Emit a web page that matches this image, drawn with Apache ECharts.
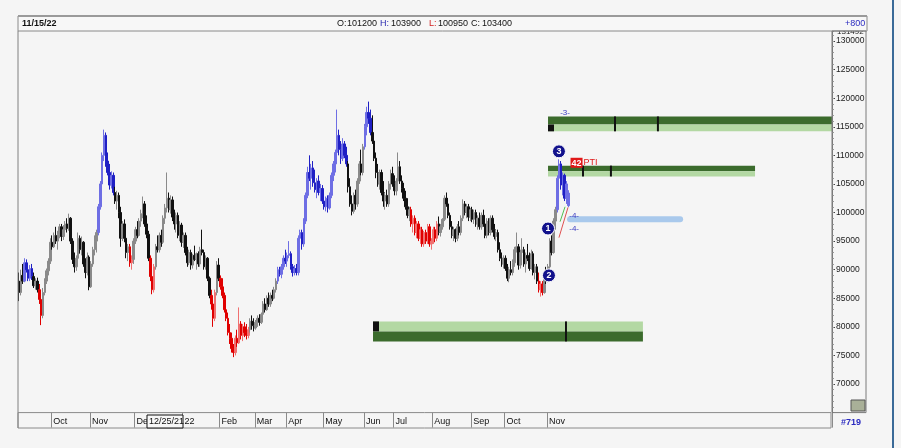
<!DOCTYPE html>
<html><head><meta charset="utf-8">
<script src="https://cdn.jsdelivr.net/npm/echarts@6/dist/echarts.min.js"></script>
<style>html,body{margin:0;padding:0;background:#f5f5f5}#c{width:901px;height:448px}</style>
</head><body><div id="c"></div>
<script>
// ---- data (prices in thousands) ----
// daily bars: [open, high, low, close]
const bars = [
[88.0,89.5,84.5,86.0],[86.0,90.0,85.5,89.0],[89.0,91.0,87.5,88.0],[88.0,92.0,87.8,91.2],[91.2,91.8,89.5,90.0],
[90.0,90.5,88.0,88.5],[88.5,90.8,88.0,90.2],[90.2,91.0,88.2,88.8],[88.8,89.5,86.8,87.2],[87.2,88.5,86.5,88.0],
[88.0,88.6,86.0,86.5],[86.5,87.5,84.0,84.8],[84.8,85.5,80.3,82.0],[82.0,86.8,81.5,86.0],[86.0,88.5,85.5,88.0],
[88.0,90.2,87.5,89.8],[89.8,92.0,89.0,91.5],[91.5,95.5,91.0,94.8],[94.8,96.0,93.5,94.0],[94.0,96.5,93.8,96.0],
[96.0,97.5,94.5,95.0],[95.0,96.8,93.5,96.2],[96.2,98.0,95.5,97.5],[97.5,98.0,95.0,95.8],[95.8,97.8,95.2,97.0],
[97.0,98.5,96.0,98.0],[98.0,99.0,96.5,97.2],[97.2,99.8,96.8,99.0],[99.0,99.2,94.5,95.0],[95.0,95.5,91.0,91.8],
[91.8,93.0,89.5,90.5],[90.5,92.5,89.8,92.0],[92.0,96.5,91.5,95.5],[95.5,96.0,92.8,93.5],[93.5,95.8,92.5,94.8],
[94.8,95.0,90.5,91.0],[91.0,92.0,88.5,89.5],[89.5,93.0,89.0,92.2],[92.2,92.5,86.4,87.0],[87.0,91.5,86.8,91.0],
[91.0,94.0,90.5,93.5],[93.5,96.0,92.5,95.0],[95.0,97.0,93.0,96.5],[96.5,101.5,96.0,101.0],[101.0,105.5,100.5,105.0],
[105.0,110.5,104.5,110.0],[110.0,114.5,109.0,113.5],[113.5,114.0,108.0,109.0],[109.0,110.5,106.5,107.0],[107.0,108.5,104.0,104.8],
[104.8,107.2,104.2,106.5],[106.5,107.0,103.0,103.5],[103.5,104.5,101.5,102.0],[102.0,103.8,100.5,103.0],[103.0,103.5,99.0,100.0],
[100.0,101.0,94.0,95.5],[95.5,98.5,95.0,98.0],[98.0,98.8,94.8,95.5],[95.5,97.0,92.0,93.0],[93.0,94.5,91.5,94.0],
[94.0,94.5,90.5,91.2],[91.2,92.5,90.0,91.8],[91.8,95.5,91.0,95.0],[95.0,97.5,94.5,97.0],[97.0,98.5,95.5,96.0],
[96.0,99.0,95.8,98.5],[98.5,100.5,97.5,99.8],[99.8,102.8,99.0,101.5],[101.5,102.0,97.5,98.0],[98.0,99.5,95.5,96.2],
[96.2,96.8,91.5,92.0],[92.0,92.5,88.0,88.8],[88.8,89.5,85.7,86.5],[86.5,91.0,86.0,90.5],[90.5,94.5,90.0,94.0],
[94.0,96.0,93.0,93.5],[93.5,96.5,93.0,96.0],[96.0,97.0,94.0,94.8],[94.8,99.5,94.5,99.0],[99.0,101.5,98.0,100.8],
[100.8,107.0,100.0,102.5],[102.5,103.5,100.0,100.5],[100.5,103.0,99.8,102.2],[102.2,102.8,98.5,99.2],[99.2,100.5,97.0,98.0],
[98.0,100.0,96.5,99.5],[99.5,100.0,95.5,96.0],[96.0,98.5,95.0,97.8],[97.8,98.2,94.0,94.8],[94.8,96.5,93.8,96.0],
[96.0,96.5,92.5,93.0],[93.0,94.0,90.5,91.2],[91.2,93.5,90.8,93.0],[93.0,93.5,90.0,90.8],[90.8,92.8,90.2,92.5],
[92.5,94.2,91.5,91.8],[91.8,93.0,90.0,92.8],[92.8,93.2,90.5,91.0],[91.0,94.0,90.5,93.5],[93.5,97.0,92.5,93.0],
[93.0,93.5,90.0,90.5],[90.5,92.5,90.0,92.0],[92.0,92.2,88.0,88.5],[88.5,88.8,85.0,85.5],[85.5,86.5,83.0,84.0],
[84.0,84.5,80.0,81.5],[81.5,86.5,81.0,86.0],[86.0,91.5,85.5,90.8],[90.8,92.0,88.0,88.5],[88.5,89.0,86.5,87.0],
[87.0,88.5,85.0,85.5],[85.5,86.0,82.5,83.0],[83.0,84.5,81.0,81.5],[81.5,82.5,78.5,79.0],[79.0,80.5,77.0,78.0],
[78.0,79.0,75.5,76.2],[76.2,77.0,74.7,75.5],[75.5,78.5,75.0,78.0],[78.0,79.5,76.5,77.2],[77.2,83.4,77.0,80.5],
[80.5,81.0,77.8,78.5],[78.5,80.5,77.5,80.0],[80.0,80.8,78.2,79.0],[79.0,80.5,77.8,78.5],[78.5,80.0,78.0,79.5],
[79.5,81.5,79.0,81.0],[81.0,82.0,79.5,80.2],[80.2,81.5,79.2,79.8],[79.8,81.2,79.5,80.8],[80.8,82.0,80.0,81.5],
[81.5,82.2,80.2,80.8],[80.8,82.5,80.5,82.2],[82.2,84.5,81.8,84.0],[84.0,85.0,82.5,83.0],[83.0,85.5,82.8,85.0],
[85.0,86.0,83.5,84.0],[84.0,86.0,83.5,85.5],[85.5,86.5,84.5,85.0],[85.0,87.0,84.8,86.5],[86.5,88.5,86.0,88.0],
[88.0,90.5,87.5,90.0],[90.0,90.5,88.8,89.2],[89.2,91.0,88.5,90.5],[90.5,92.5,90.0,92.0],[92.0,93.5,91.0,91.5],
[91.5,93.0,90.5,92.5],[92.5,95.0,92.0,92.8],[92.8,93.2,90.0,90.5],[90.5,91.0,88.8,89.5],[89.5,90.8,89.0,90.2],
[90.2,91.0,89.0,89.5],[89.5,96.0,89.0,95.5],[95.5,97.0,94.0,96.5],[96.5,97.0,93.5,94.5],[94.5,99.0,94.0,98.5],
[98.5,103.5,98.0,103.0],[103.0,108.0,102.5,107.0],[107.0,110.0,105.5,106.0],[106.0,108.5,104.0,107.8],[107.8,109.0,104.5,105.2],
[105.2,107.5,103.5,104.0],[104.0,106.0,102.5,105.5],[105.5,106.5,103.0,103.5],[103.5,105.0,102.0,104.2],[104.2,104.8,101.5,102.0],
[102.0,103.5,100.5,101.0],[101.0,102.8,100.2,102.5],[102.5,103.0,100.0,100.8],[100.8,103.5,100.5,103.0],[103.0,107.0,102.5,106.5],
[106.5,109.0,105.5,108.5],[108.5,111.0,107.0,110.5],[110.5,118.0,110.0,113.5],[113.5,114.5,110.0,111.0],[111.0,112.5,108.5,109.5],
[109.5,113.0,109.0,112.0],[112.0,112.5,109.5,110.0],[110.0,111.5,108.0,108.5],[108.5,109.0,103.5,104.5],[104.5,106.0,101.0,101.5],
[101.5,103.0,99.5,100.2],[100.2,103.5,99.8,103.0],[103.0,104.0,100.5,101.5],[101.5,106.0,101.0,105.5],[105.5,109.0,105.0,108.5],
[108.5,111.0,106.5,107.0],[107.0,112.0,106.5,111.5],[111.5,115.5,111.0,115.0],[115.0,118.5,113.5,117.5],[117.5,119.4,115.5,116.5],
[116.5,118.0,113.5,114.0],[114.0,117.0,112.0,112.5],[112.5,113.0,109.0,109.5],[109.5,110.5,106.0,107.0],[107.0,108.5,104.5,105.0],
[105.0,107.5,104.0,107.0],[107.0,107.5,103.0,103.5],[103.5,105.5,101.0,102.0],[102.0,103.5,100.5,103.0],[103.0,104.0,101.0,101.5],
[101.5,105.5,101.0,105.0],[105.0,107.5,104.0,106.8],[106.8,108.0,104.5,105.0],[105.0,106.5,103.0,103.8],[103.8,106.0,103.0,105.5],
[105.5,110.5,105.0,108.0],[108.0,109.0,105.0,105.5],[105.5,106.5,103.5,104.2],[104.2,105.2,102.0,102.5],[102.5,103.8,100.5,101.0],
[101.0,102.5,99.0,99.5],[99.5,101.0,98.5,100.5],[100.5,101.0,97.5,98.0],[98.0,99.5,96.5,99.0],[99.0,99.5,96.0,96.5],
[96.5,98.5,95.5,98.0],[98.0,98.5,95.0,95.5],[95.5,97.5,94.5,97.0],[97.0,97.5,94.0,94.5],[94.5,96.8,94.0,96.5],
[96.5,97.0,94.5,95.0],[95.0,98.0,94.5,97.5],[97.5,98.0,94.0,94.5],[94.5,95.5,93.5,95.0],[95.0,97.5,94.5,97.0],
[97.0,97.5,94.8,95.5],[95.5,98.5,95.0,98.0],[98.0,99.3,96.0,96.5],[96.5,98.0,95.8,97.5],[97.5,99.0,97.0,98.8],
[98.8,103.0,98.5,102.5],[102.5,103.5,101.0,101.5],[101.5,102.5,99.0,99.5],[99.5,100.0,97.0,97.5],[97.5,98.5,95.5,96.0],
[96.0,97.5,95.0,97.0],[97.0,97.2,94.8,95.5],[95.5,98.0,95.0,97.5],[97.5,98.5,96.0,96.5],[96.5,99.5,96.0,99.0],
[99.0,102.3,98.5,101.5],[101.5,102.0,99.5,100.0],[100.0,101.5,99.0,101.0],[101.0,101.5,98.5,99.2],[99.2,100.8,98.5,100.5],
[100.5,101.0,98.3,98.8],[98.8,100.5,98.0,100.0],[100.0,100.5,97.5,98.0],[98.0,99.5,97.0,99.0],[99.0,100.0,97.0,97.5],
[97.5,100.0,97.0,99.5],[99.5,100.5,97.5,98.0],[98.0,98.5,95.5,96.0],[96.0,99.0,95.5,98.5],[98.5,99.0,96.0,96.5],
[96.5,99.5,96.0,99.0],[99.0,99.5,96.5,97.0],[97.0,98.0,95.3,95.8],[95.8,97.0,95.0,96.5],[96.5,97.0,93.0,93.5],
[93.5,94.8,91.5,92.0],[92.0,93.0,90.5,91.0],[91.0,92.5,90.2,92.0],[92.0,92.5,89.8,90.2],[90.2,91.0,88.0,88.5],
[88.5,90.5,87.8,90.0],[90.0,91.5,89.0,89.5],[89.5,91.8,89.0,91.2],[91.2,94.0,90.5,93.5],[93.5,96.5,93.0,94.0],
[94.0,94.5,90.0,90.8],[90.8,93.5,90.2,93.0],[93.0,95.5,92.5,93.5],[93.5,94.0,90.5,91.0],[91.0,93.0,89.5,92.5],
[92.5,94.5,91.5,92.0],[92.0,93.0,89.8,90.2],[90.2,93.5,90.0,92.8],[92.8,93.2,89.0,89.5],[89.5,91.0,88.3,90.5],
[90.5,91.0,87.5,88.0],[88.0,89.5,86.0,86.5],[86.5,88.0,85.3,87.5],[87.5,88.0,85.5,86.0],[86.0,89.5,85.8,89.0],
[89.0,90.5,87.5,88.0],[88.0,91.0,87.8,90.5],[90.5,95.5,90.0,95.0],[95.0,96.0,92.5,93.0],[93.0,99.0,92.8,98.5],
[98.5,101.0,97.0,100.5],[100.5,106.5,100.0,106.0],[106.0,109.3,104.5,108.5],[108.5,109.0,104.0,104.8],[104.8,107.0,103.0,106.5],
[106.5,106.8,102.0,102.5],[102.5,105.5,101.5,105.0],[101.2,103.9,100.95,103.4]
];
// trend colouring segments: [firstBar, lastBar, 'b' blue | 'r' red]; others neutral
const trendSegments = [[3,7,'b'],[11,12,'r'],[43,51,'b'],[60,61,'r'],[71,73,'r'],[104,106,'r'],[109,124,'r'],
  [140,177,'b'],[187,190,'b'],[212,226,'r'],[281,283,'r'],[291,297,'b']];
// time axis
const slotCount = 440;
const monthStart = [18, 39, 63, 89, 109, 128, 145, 165, 187, 203, 224, 245, 263, 286];
const monthLabel = ['Oct','Nov','Dec','22','Feb','Mar','Apr','May','Jun','Jul','Aug','Sep','Oct','Nov'];
// price zones (bar index span, prices in thousands)
const zoneStart = [286.0, 286.0, 191.4];
const zoneEnd = [439.5, 397.9, 337.3];
const zoneTop = [116.8, 108.2, 80.95];
const zoneMid = [115.4, 107.2, 79.2];
const zoneBottom = [114.2, 106.3, 77.45];
const zoneDarkOnTop = [1, 1, 0];
const zoneMarks = [[322.2, 345.4], [304.9, 320.0], [295.7]];
const zoneHasSquare = [1, 0, 1];
// target band
const bandSpan = [297.9, 357.4];
const bandPrice = 98.8;
// short trend lines [[idx, price],[idx, price]]
const greenLine = [[292.5, 98.4], [295.2, 101.0]];
const redLine = [[291.9, 95.6], [296.8, 100.9]];
// wave counts
const waveIdx = [286.0, 286.5, 291.9];
const wavePrice = [97.2, 89.0, 110.7];
const waveText = ['1', '2', '3'];
const tagIdx = [295.2, 300.1, 300.1];
const tagPrice = [117.5, 99.5, 97.2];
const tagText = ['-3-', '-4-', '-4-'];
const ptiPoint = [297.9, 108.7];
const ptiValue = '42';
const yMin = 65000, yMax = 131750, yStep = 5000, yMinorStep = 1000;
const topLabel = '131492';
const K = 1000;

const palette = {
  k: {up: '#8a8a8a', down: '#111111'},
  b: {up: '#6e6ee4', down: '#1f1fc4'},
  r: {up: '#f07070', down: '#e00000'}
};
function trendAt(i) {
  for (const s of trendSegments) if (i >= s[0] && i <= s[1]) return s[2];
  return 'k';
}
const categories = Array.from({length: slotCount}, (_, i) => String(i));
const monthMap = {};
monthStart.forEach((s, i) => monthMap[s] = monthLabel[i]);
const candleData = bars.map((b, i) => {
  const p = palette[trendAt(i)];
  const c = b[3] >= b[0] ? p.up : p.down;
  return {value: [b[0]*K, b[3]*K, b[2]*K, b[1]*K],
    itemStyle: {color: c, color0: c, borderColor: c, borderColor0: c, borderWidth: 1}};
});
const last = bars[bars.length - 1];
const fmt = v => String(Math.round(v * K));

const DARK = '#3b6b2c', LIGHT = '#b3d8a3';
const FONT = 'Liberation Sans, Arial, sans-serif';

const chart = echarts.init(document.getElementById('c'), null, {renderer: 'canvas'});
chart.setOption({
  backgroundColor: '#f5f5f5',
  animation: false,
  grid: {left: 18, right: 69, top: 31, bottom: 35.4, show: false},
  xAxis: [{
    type: 'category', data: categories, boundaryGap: true,
    axisLine: {show: false, onZero: false},
    axisTick: {show: true, interval: (i) => monthMap[i] !== undefined, length: 15, lineStyle: {color: '#8a8a8a'}},
    axisLabel: {interval: (i) => monthMap[i] !== undefined, formatter: (v, i) => monthMap[i] || '',
      align: 'left', margin: 4, fontSize: 9, color: '#111', fontFamily: FONT, padding: [0, 0, 0, 1]},
    splitLine: {show: false}
  }, {
    type: 'value', min: -0.5, max: slotCount - 0.5, show: false, axisLine: {onZero: false}
  }],
  yAxis: [{
    type: 'value', position: 'right', min: yMin, max: yMax, interval: yStep,
    axisLine: {show: true, onZero: false, lineStyle: {color: '#7a7a7a'}},
    axisTick: {show: true, length: 3, lineStyle: {color: '#444'}},
    minorTick: {show: false},
    axisLabel: {margin: 4, fontSize: 8.5, color: '#1a1a1a', fontFamily: FONT, showMinLabel: false, showMaxLabel: false,
      formatter: v => String(v)},
    splitLine: {show: false}
  }, {
    type: 'value', position: 'right', min: yMin, max: yMax, interval: yMinorStep,
    axisLine: {show: false, onZero: false},
    axisTick: {show: true, length: 2, lineStyle: {color: '#999'}},
    axisLabel: {show: false},
    splitLine: {show: false}
  }],
  series: [
    {
      type: 'custom', xAxisIndex: 1, yAxisIndex: 0, z: 1,
      data: zoneStart.map((s, i) => [s, zoneEnd[i], zoneTop[i]*K, zoneMid[i]*K, zoneBottom[i]*K, i]),
      renderItem: (params, api) => {
        const i = api.value(5);
        const a = api.coord([api.value(0), api.value(2)]);
        const m = api.coord([api.value(0), api.value(3)]);
        const b = api.coord([api.value(1), api.value(4)]);
        const w = b[0] - a[0];
        const dt = zoneDarkOnTop[i];
        const ch = [
          {type: 'rect', shape: {x: a[0], y: a[1], width: w, height: m[1] - a[1]}, style: {fill: dt ? DARK : LIGHT}},
          {type: 'rect', shape: {x: a[0], y: m[1], width: w, height: b[1] - m[1]}, style: {fill: dt ? LIGHT : DARK}}
        ];
        zoneMarks[i].forEach(t => {
          const p = api.coord([t, api.value(2)]);
          ch.push({type: 'rect', shape: {x: p[0] - 1, y: a[1], width: 2, height: b[1] - a[1]}, style: {fill: '#111'}});
        });
        if (zoneHasSquare[i]) {
          const y0 = dt ? m[1] : a[1], y1 = dt ? b[1] : m[1];
          ch.push({type: 'rect', shape: {x: a[0], y: y0, width: 6, height: y1 - y0}, style: {fill: '#111'}});
        }
        return {type: 'group', children: ch};
      }
    },
    {
      type: 'line', xAxisIndex: 1, yAxisIndex: 0, z: 1, symbol: 'none', silent: true,
      data: [[bandSpan[0], bandPrice*K], [bandSpan[1], bandPrice*K]],
      lineStyle: {color: '#a9c9ec', width: 6, cap: 'round'}
    },
    {
      type: 'candlestick', xAxisIndex: 0, yAxisIndex: 0, barWidth: 2, z: 3,
      data: candleData
    },
    {
      type: 'line', xAxisIndex: 1, yAxisIndex: 0, z: 4, symbol: 'none', silent: true,
      data: greenLine.map(p => [p[0], p[1]*K]), lineStyle: {color: '#50c050', width: 1}
    },
    {
      type: 'line', xAxisIndex: 1, yAxisIndex: 0, z: 4, symbol: 'none', silent: true,
      data: redLine.map(p => [p[0], p[1]*K]), lineStyle: {color: '#e05050', width: 1}
    },
    {
      type: 'scatter', xAxisIndex: 1, yAxisIndex: 0, z: 5, symbol: 'circle', symbolSize: 13,
      data: waveIdx.map((x, i) => ({value: [x, wavePrice[i]*K], name: waveText[i]})),
      itemStyle: {color: '#12128c', borderColor: '#ffffff', borderWidth: 1, opacity: 1},
      label: {show: true, position: 'inside', formatter: p => p.name, color: '#fff', fontSize: 9, fontWeight: 'bold', fontFamily: FONT}
    },
    {
      type: 'scatter', xAxisIndex: 1, yAxisIndex: 0, z: 5, symbolSize: 1, itemStyle: {color: 'rgba(0,0,0,0)'},
      data: tagIdx.map((x, i) => ({value: [x, tagPrice[i]*K], name: tagText[i]})),
      label: {show: true, position: 'inside', formatter: p => p.name, color: '#3a3ac0', fontSize: 8, fontFamily: FONT, opacity: 1}
    },
    {
      type: 'scatter', xAxisIndex: 1, yAxisIndex: 0, z: 5, symbolSize: 1, itemStyle: {color: 'rgba(0,0,0,0)'},
      data: [{value: [ptiPoint[0], ptiPoint[1]*K], name: ptiValue}],
      label: {show: true, position: 'right', distance: 0, opacity: 1, formatter: p => '{n|' + p.name + '}{t|PTI}',
        rich: {n: {backgroundColor: '#e01818', color: '#fff', fontSize: 9, fontWeight: 'bold', padding: [1, 1, 0, 1], fontFamily: FONT},
               t: {color: '#e01818', fontSize: 9, fontFamily: FONT, padding: [0, 0, 0, 1]}}}
    }
  ],
  graphic: [
    {type: 'text', x: 837, y: 28, z: 10, style: {text: topLabel, font: '8px ' + FONT, fill: '#222'}},
    {type: 'rect', z: 11, shape: {x: 18, y: 16, width: 849, height: 15}, style: {fill: '#f7f7f7', stroke: '#8a8a8a', lineWidth: 1}},
    {type: 'line', z: 12, shape: {x1: 18, y1: 16, x2: 867, y2: 16}, style: {stroke: '#9a9a9a', lineWidth: 2}},
    {type: 'text', z: 12, x: 22, y: 19, style: {text: '11/15/22', font: 'bold 9px ' + FONT, fill: '#111'}},
    {type: 'text', z: 12, x: 337, y: 19, style: {text: 'O:', font: '9px ' + FONT, fill: '#111'}},
    {type: 'text', z: 12, x: 347, y: 19, style: {text: fmt(last[0]), font: '9px ' + FONT, fill: '#111'}},
    {type: 'text', z: 12, x: 380, y: 19, style: {text: 'H:', font: '9px ' + FONT, fill: '#2b2bb0'}},
    {type: 'text', z: 12, x: 391, y: 19, style: {text: fmt(last[1]), font: '9px ' + FONT, fill: '#111'}},
    {type: 'text', z: 12, x: 429, y: 19, style: {text: 'L:', font: '9px ' + FONT, fill: '#d02020'}},
    {type: 'text', z: 12, x: 438, y: 19, style: {text: fmt(last[2]), font: '9px ' + FONT, fill: '#111'}},
    {type: 'text', z: 12, x: 471, y: 19, style: {text: 'C:', font: '9px ' + FONT, fill: '#111'}},
    {type: 'text', z: 12, x: 482, y: 19, style: {text: fmt(last[3]), font: '9px ' + FONT, fill: '#111'}},
    {type: 'text', z: 12, x: 845, y: 19, style: {text: '+800', font: '9px ' + FONT, fill: '#2b2bc0'}},
    {type: 'line', z: 12, shape: {x1: 18, y1: 31, x2: 18, y2: 428}, style: {stroke: '#808080', lineWidth: 1}},
    {type: 'rect', z: 12, shape: {x: 18, y: 412.6, width: 813, height: 15.4}, style: {fill: 'none', stroke: '#8a8a8a', lineWidth: 1}},
    {type: 'rect', z: 12, shape: {x: 832, y: 31, width: 34, height: 381.6}, style: {fill: 'none', stroke: '#7a7a7a', lineWidth: 1}},
    {type: 'rect', z: 12, shape: {x: 851, y: 400, width: 14, height: 11}, style: {fill: '#a9b098', stroke: '#555', lineWidth: 1}},
    {type: 'rect', z: 12, shape: {x: 147, y: 415, width: 36, height: 13}, style: {fill: '#f7f7f7', stroke: '#111', lineWidth: 1}},
    {type: 'text', z: 13, x: 149, y: 417, style: {text: '12/25/21', font: '9px ' + FONT, fill: '#111'}},
    {type: 'text', z: 12, x: 841, y: 418, style: {text: '#719', font: 'bold 9px ' + FONT, fill: '#2b2bc0'}},
    {type: 'line', z: 12, shape: {x1: 893, y1: 0, x2: 893, y2: 448}, style: {stroke: '#3a6a98', lineWidth: 2}}
  ]
});
</script></body></html>
